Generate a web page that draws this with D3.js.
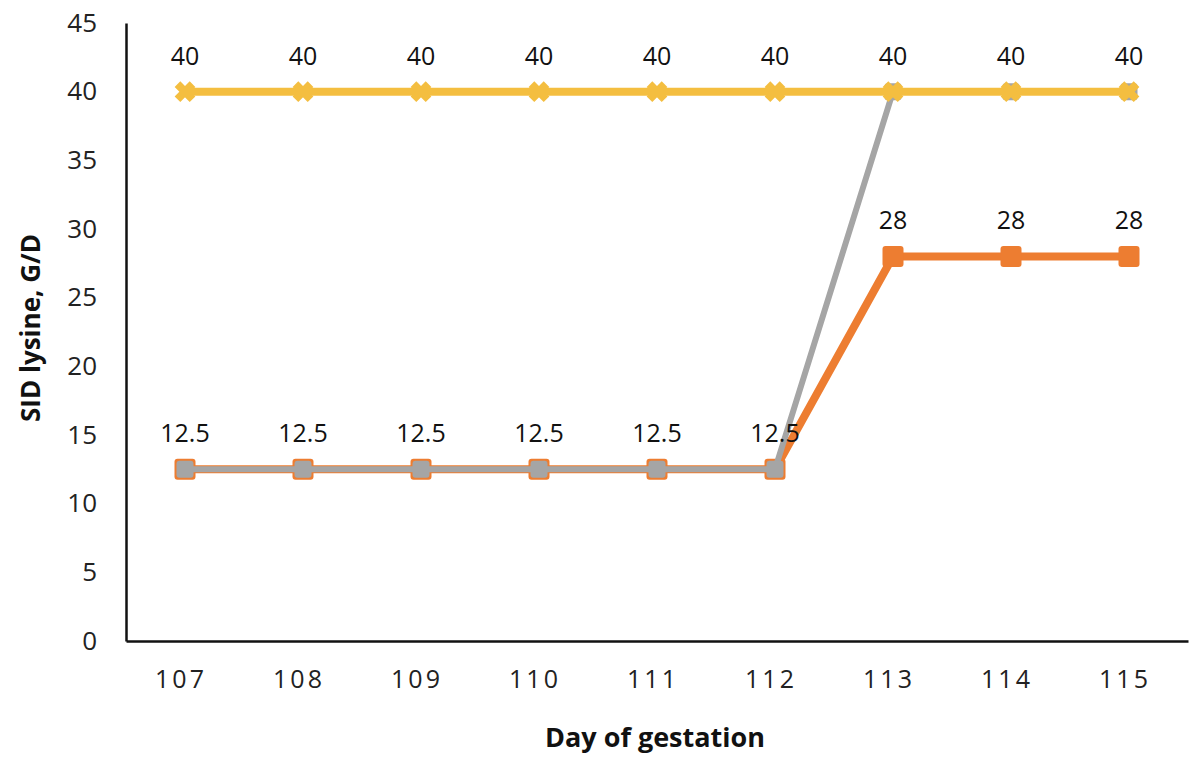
<!DOCTYPE html>
<html><head><meta charset="utf-8">
<script src="https://cdn.jsdelivr.net/npm/d3@7"></script>
<style>body{margin:0;background:#fff}svg{display:block}</style>
</head><body>
<svg id="c" width="1200" height="758"></svg>
<script>
const days = ["107","108","109","110","111","112","113","114","115"];
const seriesOrange = [12.5,12.5,12.5,12.5,12.5,12.5,28,28,28];
const seriesGray = [12.5,12.5,12.5,12.5,12.5,12.5,40,40,40];
const seriesYellow = [40,40,40,40,40,40,40,40,40];
const yTicks = [0,5,10,15,20,25,30,35,40,45];
const labelsOrange = [null,null,null,null,null,null,"28","28","28"];
const labelsGray = ["12.5","12.5","12.5","12.5","12.5","12.5",null,null,null];
const labelsYellow = ["40","40","40","40","40","40","40","40","40"];

const svg = d3.select("#c");
const L=126, R=1188, T=23, B=641;
const x = d3.scaleBand().domain(days).range([L,R]);
const y = d3.scaleLinear().domain([0,45]).range([B,T]);
const font = "'Open Sans', 'Noto Sans', sans-serif";

// axes
const yAxis = svg.append("g").attr("transform",`translate(${L},0)`).call(d3.axisLeft(y).tickValues(yTicks).tickSize(0).tickPadding(29));
yAxis.select(".domain").attr("stroke","#111").attr("stroke-width",2.5);
yAxis.selectAll("text").attr("font-family",font).attr("font-size",26).attr("fill","#222");
const xAxis = svg.append("g").attr("transform",`translate(0,${B})`).call(d3.axisBottom(x).tickSize(0).tickPadding(29));
xAxis.select(".domain").attr("stroke","#111").attr("stroke-width",2.5);
xAxis.selectAll("text").attr("font-family",font).attr("font-size",25).attr("fill","#222").attr("letter-spacing","3px").attr("dx","-4px");

const line = d3.line().x((d,i)=>x(days[i])+x.bandwidth()/2).y(d=>y(d));
function drawSeries(vals,color,width,marker,size){
  svg.append("path").datum(vals).attr("d",line).attr("fill","none").attr("stroke",color).attr("stroke-width",width).attr("stroke-linejoin","round");
  const g = svg.append("g");
  vals.forEach((v,i)=>{
    const cx = x(days[i])+x.bandwidth()/2, cy=y(v);
    if(marker==="square"){
      g.append("rect").attr("x",cx-size/2).attr("y",cy-size/2).attr("width",size).attr("height",size).attr("rx",3).attr("fill",color);
    } else {
      g.append("path").attr("d",d3.symbol(d3.symbolX,size)()).attr("transform",`translate(${cx},${cy})`).attr("stroke",color).attr("stroke-width",8).attr("fill",color);
    }
  });
}
drawSeries(seriesOrange,"#ED7D31",8,"square",21);
drawSeries(seriesGray,"#A5A5A5",6,"square",17);
drawSeries(seriesYellow,"#F4BE40",8,"x",150);

function drawLabels(vals,labels,off){
  labels.forEach((t,i)=>{
    if(!t) return;
    svg.append("text").attr("x",x(days[i])+x.bandwidth()/2).attr("y",y(vals[i])-off)
      .attr("text-anchor","middle").attr("font-family",font).attr("font-size",25).attr("fill","#111").text(t);
  });
}
drawLabels(seriesOrange,labelsOrange,27);
drawLabels(seriesGray,labelsGray,27);
drawLabels(seriesYellow,labelsYellow,27);

svg.append("text").attr("x",655).attr("y",747).attr("text-anchor","middle").attr("font-family",font).attr("font-weight","bold").attr("font-size",27).attr("fill","#111").text("Day of gestation");
svg.append("text").attr("transform","translate(40,328) rotate(-90)").attr("text-anchor","middle").attr("font-family",font).attr("font-weight","bold").attr("font-size",26).attr("fill","#111").text("SID lysine, G/D");
</script>
</body></html>
